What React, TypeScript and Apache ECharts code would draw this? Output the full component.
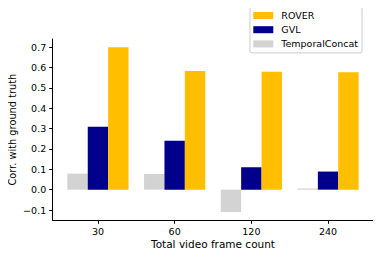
import React, { useEffect, useRef } from "react";
import * as echarts from "echarts";

const categories = ["30", "60", "120", "240"];
const roverValues = [0.70, 0.583, 0.58, 0.577];
const gvlValues = [0.309, 0.24, 0.11, 0.089];
const temporalConcatValues = [0.079, 0.077, -0.11, 0.006];
const yTicks = [-0.1, 0, 0.1, 0.2, 0.3, 0.4, 0.5, 0.6, 0.7];

const FONT = "DejaVu Sans";

export default function App() {
  const ref = useRef<HTMLDivElement>(null);
  useEffect(() => {
    if (!ref.current) return;
    const chart = echarts.init(ref.current, null, { renderer: "svg" });
    const toPts = (arr: number[]) => arr.map((v, i) => [i, v]);
    const barW = 20.4;
    const mkSeries = (name: string, data: number[], color: string) => ({
      name,
      type: "bar",
      data: toPts(data),
      barWidth: barW,
      barGap: "0%",
      itemStyle: { color },
      emphasis: { disabled: true },
    });
    chart.setOption({
      animation: false,
      textStyle: { fontFamily: FONT },
      grid: { left: 52.7, right: 7.7, top: 39, bottom: 38.7, containLabel: false, outerBoundsMode: "none" },
      legend: {
        data: ["ROVER", "GVL", "TemporalConcat"],
        orient: "vertical",
        left: 250,
        top: 7,
        itemWidth: 20,
        itemHeight: 7,
        itemGap: 4.2,
        icon: "rect",
        padding: [3.5, 4, 4, 3.3],
        borderColor: "#cccccc",
        borderWidth: 1,
        borderRadius: 2,
        backgroundColor: "#ffffff",
        selectedMode: false,
        textStyle: {
          fontFamily: FONT,
          fontSize: 9.5,
          color: "#000",
          lineHeight: 10,
          padding: [0, 0, 0, 3],
        },
      },
      xAxis: {
        type: "value",
        min: -0.59,
        max: 3.59,
        name: "Total video frame count",
        nameLocation: "middle",
        nameGap: 18.5,
        nameMoveOverlap: false,
        nameTextStyle: { fontFamily: FONT, fontSize: 10.5, color: "#000" },
        axisLine: { show: true, onZero: false, lineStyle: { color: "#000", width: 1 } },
        axisTick: { show: true, length: 3.5, customValues: [0, 1, 2, 3], lineStyle: { color: "#000" } },
        axisLabel: {
          customValues: [0, 1, 2, 3],
          formatter: (v: number) => categories[Math.round(v)] ?? "",
          fontFamily: FONT,
          fontSize: 9.5,
          color: "#000",
          margin: 6,
        },
        splitLine: { show: false },
      },
      yAxis: {
        type: "value",
        min: -0.1505,
        max: 0.7405,
        name: "Corr. with ground truth",
        nameLocation: "middle",
        nameGap: 35,
        nameMoveOverlap: false,
        nameTextStyle: { fontFamily: FONT, fontSize: 9.8, color: "#000" },
        axisLine: { show: true, onZero: false, lineStyle: { color: "#000", width: 1 } },
        axisTick: { show: true, length: 3.5, customValues: yTicks, lineStyle: { color: "#000" } },
        axisLabel: {
          customValues: yTicks,
          formatter: (v: number) => (v < 0 ? "\u2212" + Math.abs(v).toFixed(1) : v.toFixed(1)),
          fontFamily: FONT,
          fontSize: 9.5,
          color: "#000",
          margin: 6.5,
        },
        splitLine: { show: false },
      },
      series: [
        mkSeries("TemporalConcat", temporalConcatValues, "#d3d3d3"),
        mkSeries("GVL", gvlValues, "#00008b"),
        mkSeries("ROVER", roverValues, "#ffbf00"),
      ],
    });
    return () => chart.dispose();
  }, []);
  return <div ref={ref} style={{ width: 381, height: 259, margin: -8 }} />;
}
